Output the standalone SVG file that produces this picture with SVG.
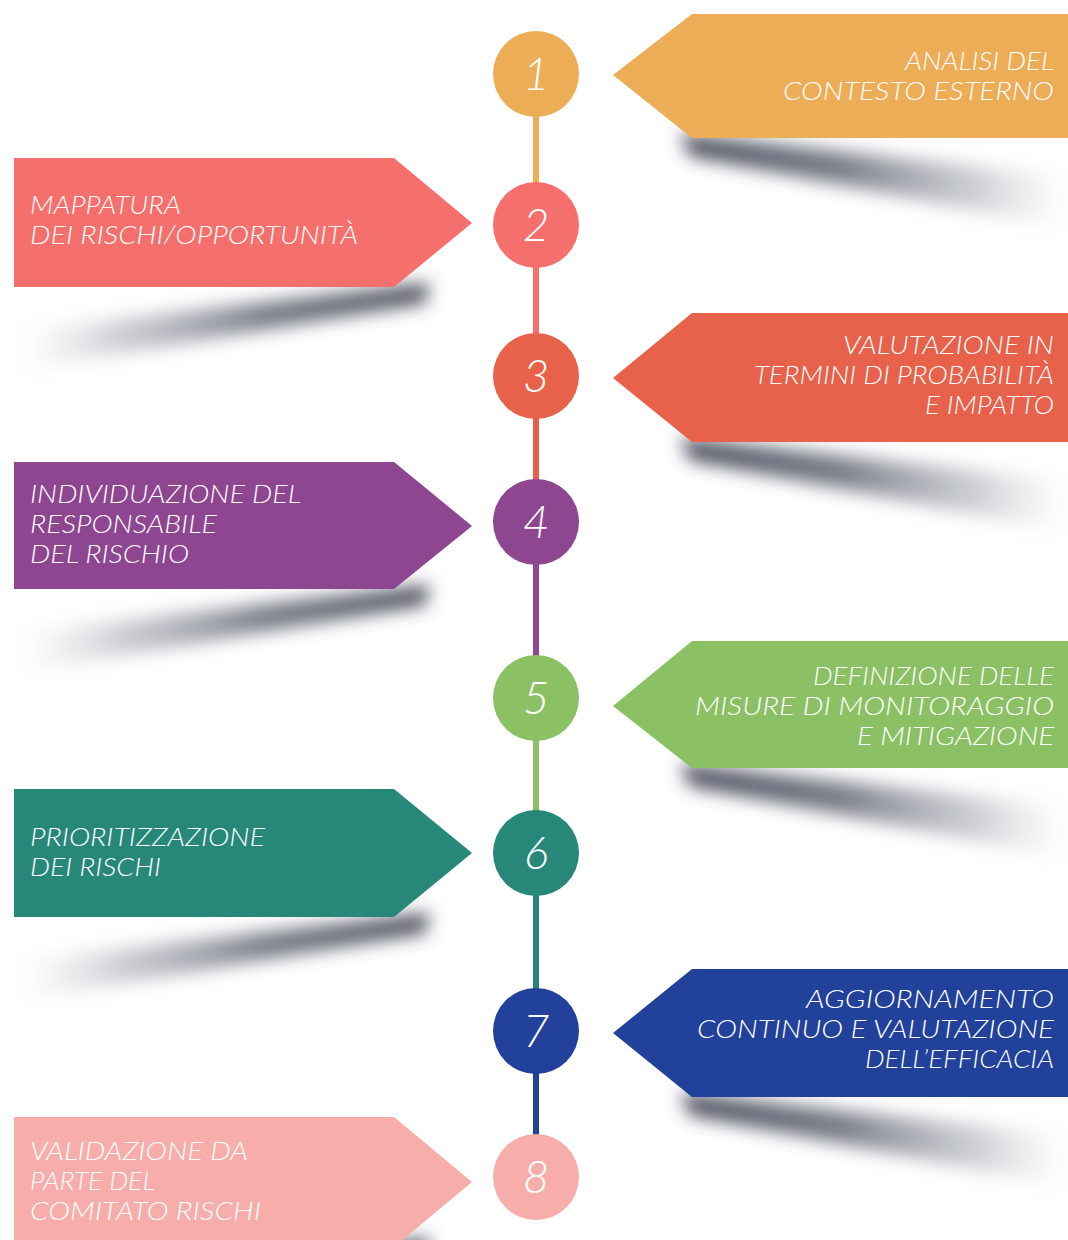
<svg xmlns="http://www.w3.org/2000/svg" width="1068" height="1240" viewBox="0 0 1068 1240">
<style>
.lbl{font-family:"Lato","Liberation Sans",sans-serif;font-weight:300;font-style:italic;font-size:25px;fill:#fff}
.r{text-anchor:end}
.num{font-family:"Lato","Liberation Sans",sans-serif;font-weight:300;font-style:italic;font-size:46px;fill:#fff;text-anchor:middle}
.conn{stroke-width:6;fill:none}
</style>
<defs>
<filter id="blur" x="-20%" y="-150%" width="140%" height="400%"><feGaussianBlur stdDeviation="9"/></filter>
<linearGradient id="shR" gradientUnits="userSpaceOnUse" x1="690" y1="0" x2="1068" y2="0">
<stop offset="0" stop-color="#3e4152" stop-opacity="0.95"/>
<stop offset="0.4" stop-color="#585d6c" stop-opacity="0.8"/>
<stop offset="0.75" stop-color="#8d939b" stop-opacity="0.45"/>
<stop offset="1" stop-color="#b8bcc2" stop-opacity="0"/>
</linearGradient>
<linearGradient id="shL" gradientUnits="userSpaceOnUse" x1="425" y1="0" x2="20" y2="0">
<stop offset="0" stop-color="#3e4152" stop-opacity="0.95"/>
<stop offset="0.4" stop-color="#585d6c" stop-opacity="0.8"/>
<stop offset="0.75" stop-color="#8d939b" stop-opacity="0.45"/>
<stop offset="1" stop-color="#b8bcc2" stop-opacity="0"/>
</linearGradient>
</defs>
<rect width="1068" height="1240" fill="#fff"/>
<g id="shadows" filter="url(#blur)">
<polygon points="680,134 1068,176 1068,228 690,156" fill="url(#shR)"/>
<polygon points="430,283 20,330 20,370 425,303" fill="url(#shL)"/>
<polygon points="680,438 1068,480 1068,532 690,460" fill="url(#shR)"/>
<polygon points="430,585 20,632 20,672 425,605" fill="url(#shL)"/>
<polygon points="680,764 1068,806 1068,858 690,786" fill="url(#shR)"/>
<polygon points="430,913 20,960 20,1000 425,933" fill="url(#shL)"/>
<polygon points="680,1093 1068,1135 1068,1187 690,1115" fill="url(#shR)"/>
<polygon points="430,1238 20,1285 20,1325 425,1258" fill="url(#shL)"/>
</g>
<g id="connectors">
<line class="conn" x1="536" y1="74" x2="536" y2="225" stroke="#EDAD57"/>
<line class="conn" x1="536" y1="225" x2="536" y2="376" stroke="#F56F6C"/>
<line class="conn" x1="536" y1="376" x2="536" y2="522" stroke="#E8614A"/>
<line class="conn" x1="536" y1="522" x2="536" y2="698" stroke="#8E4690"/>
<line class="conn" x1="536" y1="698" x2="536" y2="853" stroke="#8BC065"/>
<line class="conn" x1="536" y1="853" x2="536" y2="1031" stroke="#27887A"/>
<line class="conn" x1="536" y1="1031" x2="536" y2="1177" stroke="#22419A"/>
</g>
<g id="node1">
<polygon points="613,75 692,14 1068,14 1068,138 692,138" fill="#EDAD57"/>
<text class="lbl r" x="1054" y="70" textLength="149" lengthAdjust="spacingAndGlyphs">ANALISI DEL</text>
<text class="lbl r" x="1054" y="100" textLength="271" lengthAdjust="spacingAndGlyphs">CONTESTO ESTERNO</text>
<circle cx="536" cy="74" r="43" fill="#EDAD57"/>
<text class="num" x="536" y="90">1</text>
</g>
<g id="node2">
<polygon points="14,158 394,158 472,223 394,287 14,287" fill="#F56F6C"/>
<text class="lbl" x="30" y="214" textLength="151" lengthAdjust="spacingAndGlyphs">MAPPATURA</text>
<text class="lbl" x="30" y="244" textLength="328" lengthAdjust="spacingAndGlyphs">DEI RISCHI/OPPORTUNITÀ</text>
<circle cx="536" cy="225" r="43" fill="#F56F6C"/>
<text class="num" x="536" y="241">2</text>
</g>
<g id="node3">
<polygon points="613,378 692,313 1068,313 1068,442 692,442" fill="#E8614A"/>
<text class="lbl r" x="1054" y="354" textLength="211" lengthAdjust="spacingAndGlyphs">VALUTAZIONE IN</text>
<text class="lbl r" x="1054" y="384" textLength="300" lengthAdjust="spacingAndGlyphs">TERMINI DI PROBABILITÀ</text>
<text class="lbl r" x="1054" y="414" textLength="129" lengthAdjust="spacingAndGlyphs">E IMPATTO</text>
<circle cx="536" cy="376" r="43" fill="#E8614A"/>
<text class="num" x="536" y="392">3</text>
</g>
<g id="node4">
<polygon points="14,462 394,462 472,526 394,589 14,589" fill="#8E4690"/>
<text class="lbl" x="30" y="503" textLength="271" lengthAdjust="spacingAndGlyphs">INDIVIDUAZIONE DEL</text>
<text class="lbl" x="30" y="533" textLength="187" lengthAdjust="spacingAndGlyphs">RESPONSABILE</text>
<text class="lbl" x="30" y="563" textLength="159" lengthAdjust="spacingAndGlyphs">DEL RISCHIO</text>
<circle cx="536" cy="522" r="43" fill="#8E4690"/>
<text class="num" x="536" y="538">4</text>
</g>
<g id="node5">
<polygon points="613,706 692,641 1068,641 1068,768 692,768" fill="#8BC065"/>
<text class="lbl r" x="1054" y="685" textLength="241" lengthAdjust="spacingAndGlyphs">DEFINIZIONE DELLE</text>
<text class="lbl r" x="1054" y="715" textLength="359" lengthAdjust="spacingAndGlyphs">MISURE DI MONITORAGGIO</text>
<text class="lbl r" x="1054" y="745" textLength="197" lengthAdjust="spacingAndGlyphs">E MITIGAZIONE</text>
<circle cx="536" cy="698" r="43" fill="#8BC065"/>
<text class="num" x="536" y="714">5</text>
</g>
<g id="node6">
<polygon points="14,789 394,789 472,853 394,917 14,917" fill="#27887A"/>
<text class="lbl" x="30" y="846" textLength="235" lengthAdjust="spacingAndGlyphs">PRIORITIZZAZIONE</text>
<text class="lbl" x="30" y="876" textLength="131" lengthAdjust="spacingAndGlyphs">DEI RISCHI</text>
<circle cx="536" cy="853" r="43" fill="#27887A"/>
<text class="num" x="536" y="869">6</text>
</g>
<g id="node7">
<polygon points="613,1033 692,969 1068,969 1068,1097 692,1097" fill="#22419A"/>
<text class="lbl r" x="1054" y="1008" textLength="248" lengthAdjust="spacingAndGlyphs">AGGIORNAMENTO</text>
<text class="lbl r" x="1054" y="1038" textLength="357" lengthAdjust="spacingAndGlyphs">CONTINUO E VALUTAZIONE</text>
<text class="lbl r" x="1054" y="1068" textLength="189" lengthAdjust="spacingAndGlyphs">DELL’EFFICACIA</text>
<circle cx="536" cy="1031" r="43" fill="#22419A"/>
<text class="num" x="536" y="1047">7</text>
</g>
<g id="node8">
<polygon points="14,1117 394,1117 472,1182 394,1247 14,1247" fill="#F7AEAA"/>
<text class="lbl" x="30" y="1160" textLength="218" lengthAdjust="spacingAndGlyphs">VALIDAZIONE DA</text>
<text class="lbl" x="30" y="1190" textLength="125" lengthAdjust="spacingAndGlyphs">PARTE DEL</text>
<text class="lbl" x="30" y="1220" textLength="231" lengthAdjust="spacingAndGlyphs">COMITATO RISCHI</text>
<circle cx="536" cy="1177" r="43" fill="#F7AEAA"/>
<text class="num" x="536" y="1193">8</text>
</g>
</svg>
